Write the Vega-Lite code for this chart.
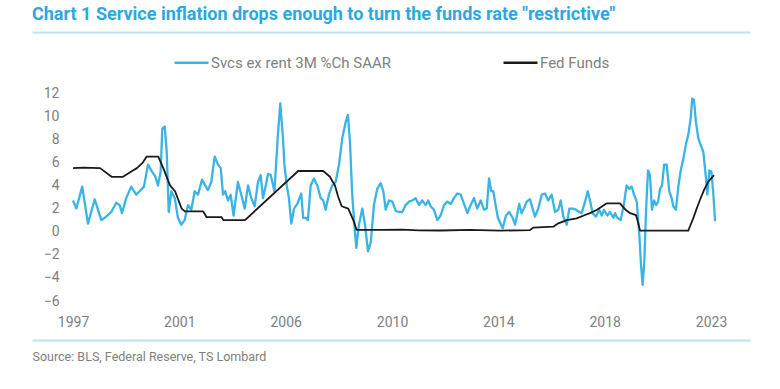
{
  "$schema": "https://vega.github.io/schema/vega-lite/v6.json",
  "autosize": "none",
  "width": 718,
  "height": 208,
  "padding": {"left": 32, "top": 93, "right": 30, "bottom": 88},
  "background": "#ffffff",
  "title": {
    "text": "Chart 1 Service inflation drops enough to turn the funds rate \"restrictive\"",
    "anchor": "start",
    "frame": "group",
    "font": "Roboto",
    "fontSize": 18,
    "fontWeight": "bold",
    "color": "#2AA8E0",
    "baseline": "alphabetic",
    "offset": -6
  },
  "config": {"view": {"stroke": null}},
  "datasets": {
    "svc": [
      {"date": "1997-01-01", "value": 2.7}, {"date": "1997-02-19", "value": 2.0}, {"date": "1997-05-17", "value": 3.9},
      {"date": "1997-08-11", "value": 0.7}, {"date": "1997-11-19", "value": 2.8}, {"date": "1998-02-26", "value": 1.0},
      {"date": "1998-05-09", "value": 1.3}, {"date": "1998-07-23", "value": 1.7}, {"date": "1998-10-06", "value": 2.5},
      {"date": "1998-11-26", "value": 2.3}, {"date": "1998-12-30", "value": 1.6}, {"date": "1999-03-03", "value": 2.9},
      {"date": "1999-05-16", "value": 3.9}, {"date": "1999-07-29", "value": 3.2}, {"date": "1999-09-19", "value": 3.5},
      {"date": "1999-11-22", "value": 3.9}, {"date": "2000-01-21", "value": 5.8}, {"date": "2000-03-20", "value": 5.2},
      {"date": "2000-05-08", "value": 4.8}, {"date": "2000-06-18", "value": 4.0}, {"date": "2000-07-28", "value": 5.2},
      {"date": "2000-08-21", "value": 8.9}, {"date": "2000-09-26", "value": 9.1}, {"date": "2000-10-26", "value": 6.9},
      {"date": "2000-11-25", "value": 1.7}, {"date": "2001-01-03", "value": 3.5}, {"date": "2001-02-23", "value": 2.9},
      {"date": "2001-04-11", "value": 1.2}, {"date": "2001-05-30", "value": 0.6}, {"date": "2001-07-20", "value": 1.0},
      {"date": "2001-09-08", "value": 2.3}, {"date": "2001-10-27", "value": 1.9}, {"date": "2001-12-16", "value": 3.5},
      {"date": "2002-02-04", "value": 3.2}, {"date": "2002-04-03", "value": 4.5}, {"date": "2002-05-22", "value": 4.0},
      {"date": "2002-07-01", "value": 3.6}, {"date": "2002-08-20", "value": 4.3}, {"date": "2002-10-10", "value": 6.5},
      {"date": "2002-11-28", "value": 5.8}, {"date": "2003-01-08", "value": 5.5}, {"date": "2003-02-11", "value": 3.2},
      {"date": "2003-03-15", "value": 3.5}, {"date": "2003-04-25", "value": 2.7}, {"date": "2003-06-04", "value": 3.2},
      {"date": "2003-07-18", "value": 1.4}, {"date": "2003-09-21", "value": 4.3}, {"date": "2003-11-10", "value": 3.2},
      {"date": "2003-12-30", "value": 2.0}, {"date": "2004-02-18", "value": 4.0}, {"date": "2004-04-07", "value": 2.9},
      {"date": "2004-05-27", "value": 2.2}, {"date": "2004-07-15", "value": 4.3}, {"date": "2004-08-24", "value": 4.9},
      {"date": "2004-09-28", "value": 2.9}, {"date": "2004-11-08", "value": 4.0}, {"date": "2004-12-12", "value": 5.0},
      {"date": "2005-01-21", "value": 4.9}, {"date": "2005-03-17", "value": 3.5}, {"date": "2005-05-08", "value": 8.4},
      {"date": "2005-06-12", "value": 11.1}, {"date": "2005-07-22", "value": 8.1}, {"date": "2005-08-13", "value": 5.8},
      {"date": "2005-09-16", "value": 4.0}, {"date": "2005-10-19", "value": 2.9}, {"date": "2005-11-23", "value": 0.7},
      {"date": "2006-01-03", "value": 2.0}, {"date": "2006-02-21", "value": 2.4}, {"date": "2006-04-20", "value": 3.3},
      {"date": "2006-05-19", "value": 1.2}, {"date": "2006-06-24", "value": 1.2}, {"date": "2006-07-28", "value": 1.0},
      {"date": "2006-09-08", "value": 4.0}, {"date": "2006-10-26", "value": 4.6}, {"date": "2006-12-15", "value": 4.0},
      {"date": "2007-02-04", "value": 2.9}, {"date": "2007-03-13", "value": 2.7}, {"date": "2007-04-18", "value": 1.9},
      {"date": "2007-06-06", "value": 3.2}, {"date": "2007-07-25", "value": 4.0}, {"date": "2007-09-14", "value": 4.3},
      {"date": "2007-11-03", "value": 5.8}, {"date": "2007-12-22", "value": 8.1}, {"date": "2008-02-11", "value": 9.5},
      {"date": "2008-03-15", "value": 10.1}, {"date": "2008-04-14", "value": 7.8}, {"date": "2008-05-18", "value": 3.2},
      {"date": "2008-06-23", "value": 0.3}, {"date": "2008-07-17", "value": -1.4}, {"date": "2008-08-26", "value": 0.6},
      {"date": "2008-10-15", "value": 2.0}, {"date": "2008-11-24", "value": 0.6}, {"date": "2009-01-08", "value": -1.7},
      {"date": "2009-02-18", "value": -0.9}, {"date": "2009-04-06", "value": 2.3}, {"date": "2009-05-25", "value": 3.7},
      {"date": "2009-07-15", "value": 4.2}, {"date": "2009-08-23", "value": 3.5}, {"date": "2009-09-28", "value": 1.9},
      {"date": "2009-11-16", "value": 2.7}, {"date": "2010-01-05", "value": 2.6}, {"date": "2010-02-25", "value": 1.8},
      {"date": "2010-04-13", "value": 1.7}, {"date": "2010-06-02", "value": 1.7}, {"date": "2010-07-22", "value": 2.3},
      {"date": "2010-09-10", "value": 2.6}, {"date": "2010-10-29", "value": 2.7}, {"date": "2010-12-18", "value": 2.9},
      {"date": "2011-02-06", "value": 2.3}, {"date": "2011-03-25", "value": 2.7}, {"date": "2011-05-15", "value": 2.3},
      {"date": "2011-06-23", "value": 2.7}, {"date": "2011-07-28", "value": 2.2}, {"date": "2011-09-16", "value": 1.9},
      {"date": "2011-11-05", "value": 1.0}, {"date": "2011-12-25", "value": 1.4}, {"date": "2012-02-13", "value": 2.3},
      {"date": "2012-04-02", "value": 2.6}, {"date": "2012-05-22", "value": 2.4}, {"date": "2012-07-10", "value": 2.9},
      {"date": "2012-08-29", "value": 3.3}, {"date": "2012-10-18", "value": 3.2}, {"date": "2012-12-07", "value": 2.4},
      {"date": "2013-01-25", "value": 1.6}, {"date": "2013-03-15", "value": 2.3}, {"date": "2013-05-04", "value": 2.9},
      {"date": "2013-06-22", "value": 2.0}, {"date": "2013-08-12", "value": 2.7}, {"date": "2013-09-30", "value": 1.9},
      {"date": "2013-11-10", "value": 2.0}, {"date": "2013-12-14", "value": 4.6}, {"date": "2014-01-17", "value": 3.5},
      {"date": "2014-02-16", "value": 3.5}, {"date": "2014-03-22", "value": 2.3}, {"date": "2014-04-25", "value": 1.2},
      {"date": "2014-05-26", "value": 0.8}, {"date": "2014-07-05", "value": 0.3}, {"date": "2014-08-23", "value": 1.4},
      {"date": "2014-10-11", "value": 1.7}, {"date": "2014-12-01", "value": 1.2}, {"date": "2015-01-05", "value": 0.6},
      {"date": "2015-02-09", "value": 1.6}, {"date": "2015-03-08", "value": 2.4}, {"date": "2015-04-13", "value": 1.6},
      {"date": "2015-05-17", "value": 2.0}, {"date": "2015-06-27", "value": 2.6}, {"date": "2015-08-15", "value": 2.8},
      {"date": "2015-09-24", "value": 2.0}, {"date": "2015-10-28", "value": 1.3}, {"date": "2015-12-17", "value": 2.0},
      {"date": "2016-02-06", "value": 3.2}, {"date": "2016-03-25", "value": 3.3}, {"date": "2016-05-13", "value": 2.7},
      {"date": "2016-07-03", "value": 3.2}, {"date": "2016-08-22", "value": 1.7}, {"date": "2016-10-10", "value": 1.9},
      {"date": "2016-11-15", "value": 2.7}, {"date": "2016-12-24", "value": 1.3}, {"date": "2017-02-13", "value": 0.6},
      {"date": "2017-03-22", "value": 2.0}, {"date": "2017-05-11", "value": 2.0}, {"date": "2017-06-30", "value": 1.9},
      {"date": "2017-08-18", "value": 1.7}, {"date": "2017-09-23", "value": 1.6}, {"date": "2017-11-12", "value": 2.6},
      {"date": "2017-12-22", "value": 3.5}, {"date": "2018-01-25", "value": 2.7}, {"date": "2018-03-05", "value": 1.6},
      {"date": "2018-04-23", "value": 1.3}, {"date": "2018-06-11", "value": 1.9}, {"date": "2018-07-17", "value": 1.4},
      {"date": "2018-08-21", "value": 1.9}, {"date": "2018-10-09", "value": 1.4}, {"date": "2018-11-19", "value": 1.7},
      {"date": "2019-01-07", "value": 1.2}, {"date": "2019-02-02", "value": 1.6}, {"date": "2019-03-06", "value": 1.2},
      {"date": "2019-04-26", "value": 1.0}, {"date": "2019-06-14", "value": 2.4}, {"date": "2019-07-24", "value": 4.0},
      {"date": "2019-09-02", "value": 3.7}, {"date": "2019-10-07", "value": 3.9}, {"date": "2019-11-11", "value": 3.2},
      {"date": "2019-12-21", "value": 2.6}, {"date": "2020-01-29", "value": -0.3}, {"date": "2020-02-23", "value": -2.9},
      {"date": "2020-03-18", "value": -4.6}, {"date": "2020-04-12", "value": -2.6}, {"date": "2020-05-07", "value": 1.7},
      {"date": "2020-06-06", "value": 5.3}, {"date": "2020-07-05", "value": 4.9}, {"date": "2020-08-04", "value": 1.9},
      {"date": "2020-09-04", "value": 2.7}, {"date": "2020-10-04", "value": 2.3}, {"date": "2020-11-03", "value": 2.6},
      {"date": "2020-12-02", "value": 3.7}, {"date": "2021-01-01", "value": 4.0}, {"date": "2021-02-01", "value": 5.8},
      {"date": "2021-03-11", "value": 5.8}, {"date": "2021-04-19", "value": 3.5}, {"date": "2021-05-24", "value": 2.9},
      {"date": "2021-06-17", "value": 2.2}, {"date": "2021-07-27", "value": 1.9}, {"date": "2021-08-31", "value": 3.9},
      {"date": "2021-10-06", "value": 5.3}, {"date": "2021-11-14", "value": 6.3}, {"date": "2021-12-24", "value": 7.6},
      {"date": "2022-01-27", "value": 8.4}, {"date": "2022-03-03", "value": 9.8}, {"date": "2022-03-26", "value": 11.5},
      {"date": "2022-04-21", "value": 11.4}, {"date": "2022-05-20", "value": 9.5}, {"date": "2022-06-24", "value": 8.1},
      {"date": "2022-07-29", "value": 7.5}, {"date": "2022-09-07", "value": 6.9}, {"date": "2022-10-13", "value": 4.9},
      {"date": "2022-11-06", "value": 3.2}, {"date": "2022-12-06", "value": 5.3}, {"date": "2023-01-05", "value": 5.2},
      {"date": "2023-02-04", "value": 3.2}, {"date": "2023-03-01", "value": 0.9}
    ],
    "ff": [
      {"date": "1997-01-01", "value": 5.5}, {"date": "1997-06-01", "value": 5.55}, {"date": "1998-02-07", "value": 5.5},
      {"date": "1998-07-29", "value": 4.75}, {"date": "1999-01-14", "value": 4.75}, {"date": "1999-06-11", "value": 5.3},
      {"date": "1999-08-10", "value": 5.5}, {"date": "1999-11-08", "value": 6.0}, {"date": "2000-01-02", "value": 6.5},
      {"date": "2000-06-22", "value": 6.5}, {"date": "2000-09-05", "value": 5.5}, {"date": "2000-12-14", "value": 4.0},
      {"date": "2001-02-27", "value": 3.5}, {"date": "2001-06-05", "value": 2.0}, {"date": "2001-07-24", "value": 1.75},
      {"date": "2002-04-22", "value": 1.75}, {"date": "2002-06-12", "value": 1.25}, {"date": "2003-01-22", "value": 1.25},
      {"date": "2003-02-16", "value": 1.0}, {"date": "2004-01-04", "value": 1.0}, {"date": "2006-03-06", "value": 5.25},
      {"date": "2007-03-13", "value": 5.25}, {"date": "2007-06-21", "value": 4.75}, {"date": "2007-09-04", "value": 4.0},
      {"date": "2007-10-23", "value": 3.0}, {"date": "2007-12-13", "value": 2.2}, {"date": "2008-03-20", "value": 2.0},
      {"date": "2008-06-03", "value": 1.0}, {"date": "2008-07-23", "value": 0.15}, {"date": "2009-07-01", "value": 0.15},
      {"date": "2010-06-01", "value": 0.18}, {"date": "2011-02-01", "value": 0.12}, {"date": "2012-01-01", "value": 0.1},
      {"date": "2013-03-01", "value": 0.15}, {"date": "2014-06-01", "value": 0.09}, {"date": "2015-08-15", "value": 0.14},
      {"date": "2015-10-03", "value": 0.35}, {"date": "2016-07-27", "value": 0.43}, {"date": "2016-10-10", "value": 0.72},
      {"date": "2017-02-13", "value": 1.0}, {"date": "2017-07-10", "value": 1.15}, {"date": "2017-11-12", "value": 1.44},
      {"date": "2018-01-25", "value": 1.6}, {"date": "2018-05-04", "value": 1.87}, {"date": "2018-10-01", "value": 2.45},
      {"date": "2019-04-16", "value": 2.45}, {"date": "2019-07-13", "value": 1.87}, {"date": "2019-09-13", "value": 1.6},
      {"date": "2019-12-10", "value": 1.44}, {"date": "2020-01-13", "value": 0.72}, {"date": "2020-02-09", "value": 0.09},
      {"date": "2022-01-27", "value": 0.09}, {"date": "2022-03-01", "value": 0.58}, {"date": "2022-04-10", "value": 1.15},
      {"date": "2022-06-01", "value": 2.0}, {"date": "2022-07-19", "value": 2.74}, {"date": "2022-09-17", "value": 3.6},
      {"date": "2022-11-20", "value": 4.32}, {"date": "2023-02-13", "value": 4.9}
    ]
  },
  "resolve": {"axis": {"x": "independent"}},
  "layer": [
    {
      "mark": {"type": "rule", "color": "#A6A6A6", "strokeWidth": 1.6},
      "encoding": {
        "x": {"datum": {"year": 1997, "month": 1, "date": 1, "utc": true}, "type": "temporal", "axis": null,
              "scale": {"type": "utc", "domain": [{"year": 1995, "month": 5, "date": 1, "utc": true}, {"year": 2024, "month": 8, "date": 2, "utc": true}]}},
        "x2": {"datum": {"year": 2023, "month": 3, "date": 3, "utc": true}},
        "y": {
          "datum": 0, "type": "quantitative",
          "scale": {"domain": [-6, 12], "nice": false, "zero": false},
          "axis": {
            "values": [-6, -4, -2, 0, 2, 4, 6, 8, 10, 12],
            "domain": false, "ticks": false, "tickSize": 0, "grid": false, "offset": -27, "labelPadding": 0,
            "labelFontSize": 14, "labelColor": "#808080", "labelFont": "Roboto", "labelBaseline": "middle", "title": null
          }
        }
      }
    },
    {
      "data": {"name": "svc"},
      "mark": {"type": "line", "strokeWidth": 2.3, "strokeJoin": "round"},
      "encoding": {
        "x": {
          "field": "date", "type": "temporal",
          "scale": {"type": "utc", "domain": [{"year": 1995, "month": 5, "date": 1, "utc": true}, {"year": 2024, "month": 8, "date": 2, "utc": true}]},
          "axis": {
            "orient": "bottom",
            "values": [
              {"year": 1997, "month": 1, "date": 1, "utc": true},
              {"year": 2001, "month": 5, "date": 1, "utc": true},
              {"year": 2005, "month": 9, "date": 1, "utc": true},
              {"year": 2010, "month": 1, "date": 1, "utc": true},
              {"year": 2014, "month": 5, "date": 1, "utc": true},
              {"year": 2018, "month": 9, "date": 1, "utc": true},
              {"year": 2023, "month": 1, "date": 1, "utc": true}
            ],
            "labelExpr": "utcFormat(datum.value, '%Y') == '2005' ? '2006' : utcFormat(datum.value, '%Y')",
            "domain": true, "domainColor": "#BFE1F1", "domainWidth": 2,
            "ticks": false, "tickSize": 0, "grid": false, "offset": 39,
            "labelPadding": -18, "labelBaseline": "middle", "labelFontSize": 14, "labelColor": "#808080",
            "labelFont": "Roboto", "labelFlush": false, "labelOverlap": false,
            "title": "Source: BLS, Federal Reserve, TS Lombard",
            "titleAnchor": "start", "titleAlign": "left", "titleX": 0, "titleY": 16, "titleBaseline": "middle",
            "titleFont": "Roboto", "titleFontSize": 12.5, "titleFontWeight": "normal", "titleColor": "#808080"
          }
        },
        "y": {
          "field": "value", "type": "quantitative",
          "axis": {
            "values": [-6, -4, -2, 0, 2, 4, 6, 8, 10, 12],
            "domain": false, "ticks": false, "tickSize": 0, "grid": false, "offset": -27, "labelPadding": 0,
            "labelFontSize": 14, "labelColor": "#808080", "labelFont": "Roboto", "labelBaseline": "middle", "title": null
          }
        },
        "color": {
          "datum": "Svcs ex rent 3M %Ch SAAR",
          "scale": {"domain": ["Svcs ex rent 3M %Ch SAAR", "Fed Funds"], "range": ["#3AB4E6", "#1A1A1A"]},
          "legend": {
            "orient": "none", "legendX": 141, "legendY": -49, "direction": "horizontal", "columns": 2,
            "title": null, "symbolType": "stroke", "symbolSize": 1156, "symbolStrokeWidth": 2.5,
            "labelFontSize": 15, "labelColor": "#808080", "labelFont": "Roboto", "labelOffset": 1, "labelLimit": 400,
            "columnPadding": 106, "padding": 0
          }
        }
      }
    },
    {
      "data": {"name": "ff"},
      "mark": {"type": "line", "strokeWidth": 1.8, "strokeJoin": "round"},
      "encoding": {
        "x": {
          "field": "date", "type": "temporal",
          "axis": {"orient": "top", "domain": true, "domainColor": "#BFE1F1", "domainWidth": 2, "labels": false,
                   "ticks": false, "grid": false, "offset": 61, "title": null}
        },
        "y": {
          "field": "value", "type": "quantitative",
          "axis": {
            "values": [-6, -4, -2, 0, 2, 4, 6, 8, 10, 12],
            "domain": false, "ticks": false, "tickSize": 0, "grid": false, "offset": -27, "labelPadding": 0,
            "labelFontSize": 14, "labelColor": "#808080", "labelFont": "Roboto", "labelBaseline": "middle", "title": null
          }
        },
        "color": {"datum": "Fed Funds"}
      }
    }
  ]
}
